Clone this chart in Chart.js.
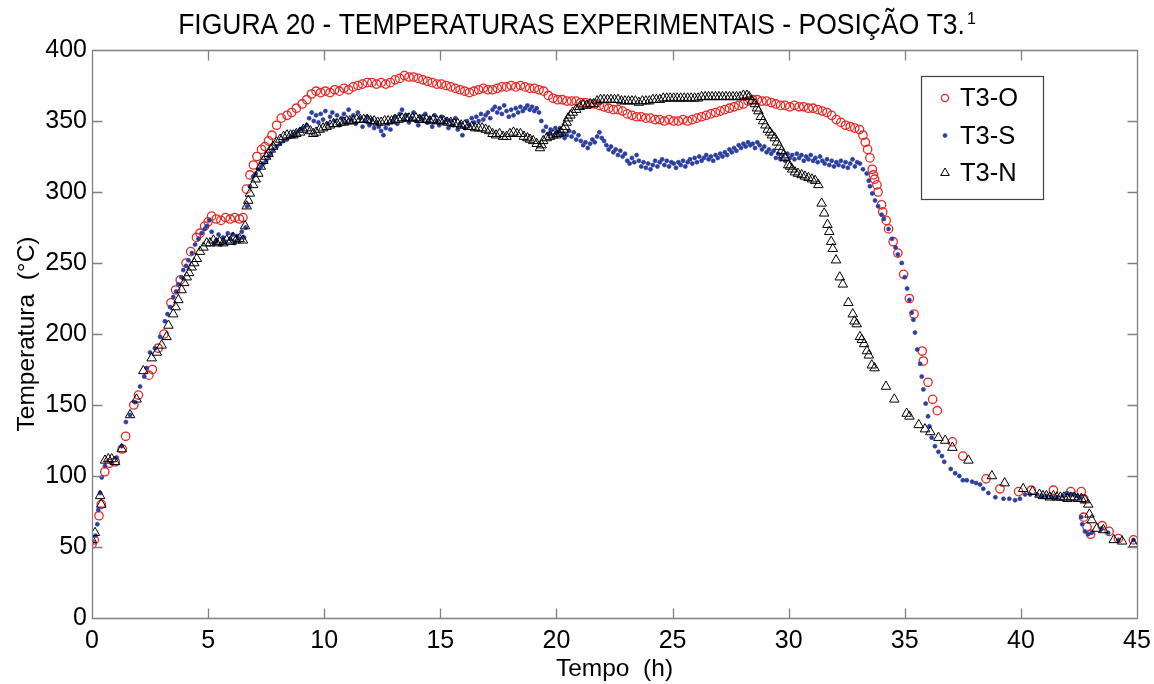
<!DOCTYPE html>
<html>
<head>
<meta charset="utf-8">
<script src="https://cdn.jsdelivr.net/npm/chart.js"></script>
<style>
  body { margin: 0; background: #fff; }
  canvas { display: block; }
</style>
</head>
<body>
<canvas id="myChart" width="1154" height="684"></canvas>
<script>
// T3-O
const timeO = [
  0.00, 0.10, 0.30, 0.40, 0.55, 0.75, 1.00, 1.30, 1.45, 1.80,
  2.00, 2.45, 2.60, 2.85, 3.10, 3.40, 3.60, 3.80, 4.05, 4.25,
  4.50, 4.65, 4.85, 5.00, 5.15, 5.35, 5.55, 5.75, 5.95, 6.15,
  6.35, 6.50, 6.65, 6.80, 6.95, 7.10, 7.30, 7.45, 7.60, 7.75,
  7.95, 8.15, 8.40, 8.60, 8.80, 9.05, 9.25, 9.45, 9.65, 9.85,
  10.05, 10.25, 10.45, 10.65, 10.85, 11.05, 11.25, 11.45, 11.65, 11.85,
  12.05, 12.25, 12.45, 12.65, 12.85, 13.05, 13.25, 13.45, 13.65, 13.85,
  14.05, 14.25, 14.45, 14.65, 14.85, 15.05, 15.25, 15.45, 15.65, 15.85,
  16.05, 16.25, 16.45, 16.65, 16.85, 17.05, 17.25, 17.45, 17.65, 17.85,
  18.05, 18.25, 18.45, 18.65, 18.85, 19.05, 19.25, 19.45, 19.65, 19.85,
  20.05, 20.25, 20.45, 20.65, 20.85, 21.05, 21.25, 21.45, 21.65, 21.85,
  22.05, 22.25, 22.45, 22.65, 22.85, 23.05, 23.25, 23.45, 23.65, 23.85,
  24.05, 24.25, 24.45, 24.65, 24.85, 25.05, 25.25, 25.45, 25.65, 25.85,
  26.05, 26.25, 26.45, 26.65, 26.85, 27.05, 27.25, 27.45, 27.65, 27.85,
  28.05, 28.25, 28.45, 28.65, 28.85, 29.05, 29.25, 29.45, 29.65, 29.85,
  30.05, 30.25, 30.45, 30.65, 30.85, 31.05, 31.25, 31.45, 31.65, 31.85,
  32.05, 32.25, 32.45, 32.65, 32.85, 33.05, 33.20, 33.30, 33.40, 33.50,
  33.60, 33.65, 33.70, 33.80, 33.85, 34.00, 34.05, 34.20, 34.30, 34.50,
  34.70, 34.95, 35.20, 35.40, 35.75, 35.80, 36.00, 36.20, 36.40, 37.05,
  37.50, 38.50, 39.10, 39.90, 40.45, 41.40, 42.15, 42.60, 42.70, 42.70,
  42.85, 43.00, 43.50, 43.80, 44.20, 44.85
];
const tempO = [
  52, 55, 72, 80, 103, 109, 110, 119, 128, 150,
  157, 171, 175, 190, 200, 222, 231, 238, 250, 258,
  268, 271, 276, 279, 283, 281, 280, 282, 281, 282,
  281, 282, 302, 312, 319, 325, 330, 332, 336, 340,
  347, 352, 354, 356, 359, 362, 365, 369, 371, 370,
  371, 370, 372, 371, 373, 372, 374, 375, 376, 377,
  377, 376, 377, 376, 377, 379, 380, 382, 381, 381,
  380, 379, 378, 377, 376, 376, 375, 374, 373, 372,
  371, 370, 371, 372, 373, 372, 372, 373, 374, 374,
  375, 374, 375, 374, 373, 373, 372, 371, 368, 366,
  365, 365, 364, 364, 364, 363, 363, 362, 362, 361,
  360, 359, 358, 358, 357, 355, 354, 353, 353, 352,
  352, 351, 351, 350, 351, 350, 350, 351, 350, 351,
  352, 353, 354, 355, 356, 357, 358, 359, 360, 361,
  362, 364, 365, 365, 364, 364, 363, 362, 361, 361,
  360, 361, 360, 360, 359, 359, 358, 357, 356, 354,
  351, 349, 347, 346, 345, 344, 340, 335, 330, 324,
  316, 312, 309, 305, 300, 291, 286, 280, 274, 265,
  257, 242, 225, 214, 188, 181, 166, 154, 146, 124,
  114, 98, 91, 89, 90, 90, 89, 89, 84, 71,
  64, 59, 65, 61, 56, 55
];

// T3-S
const timeS = [
  0.00, 0.15, 0.23, 0.27, 0.35, 0.42, 0.56, 0.85, 1.06, 1.28,
  1.46, 1.64, 1.85, 2.07, 2.25, 2.35, 2.50, 2.71, 2.93, 3.14,
  3.25, 3.36, 3.50, 3.62, 3.72, 3.85, 3.93, 4.05, 4.15, 4.30,
  4.44, 4.58, 4.72, 4.85, 4.94, 5.05, 5.15, 5.25, 5.35, 5.45,
  5.55, 5.65, 5.75, 5.85, 5.95, 6.05, 6.15, 6.25, 6.35, 6.45,
  6.55, 6.62, 6.68, 6.80, 6.94, 7.05, 7.17, 7.28, 7.38, 7.50,
  7.60, 7.70, 7.80, 7.95, 8.10, 8.25, 8.40, 8.55, 8.67, 8.80,
  8.96, 9.10, 9.25, 9.35, 9.46, 9.55, 9.65, 9.75, 9.85, 9.95,
  10.05, 10.15, 10.25, 10.35, 10.45, 10.55, 10.65, 10.75, 10.85, 10.95,
  11.05, 11.15, 11.25, 11.35, 11.45, 11.55, 11.65, 11.75, 11.85, 11.95,
  12.05, 12.15, 12.25, 12.35, 12.45, 12.55, 12.65, 12.75, 12.85, 12.95,
  13.05, 13.15, 13.25, 13.35, 13.45, 13.55, 13.65, 13.75, 13.85, 13.95,
  14.05, 14.15, 14.25, 14.35, 14.45, 14.55, 14.65, 14.75, 14.85, 14.95,
  15.05, 15.15, 15.25, 15.35, 15.45, 15.55, 15.65, 15.75, 15.85, 15.95,
  16.05, 16.15, 16.25, 16.35, 16.45, 16.55, 16.65, 16.75, 16.85, 16.95,
  17.05, 17.15, 17.25, 17.35, 17.45, 17.55, 17.65, 17.75, 17.85, 17.95,
  18.05, 18.15, 18.25, 18.35, 18.45, 18.55, 18.65, 18.75, 18.85, 18.95,
  19.05, 19.15, 19.25, 19.35, 19.43, 19.55, 19.65, 19.75, 19.85, 19.95,
  20.05, 20.15, 20.25, 20.35, 20.45, 20.55, 20.65, 20.75, 20.85, 20.95,
  21.05, 21.15, 21.25, 21.35, 21.45, 21.55, 21.65, 21.75, 21.85, 21.95,
  22.05, 22.15, 22.25, 22.35, 22.45, 22.55, 22.65, 22.75, 22.85, 22.95,
  23.05, 23.15, 23.25, 23.35, 23.45, 23.55, 23.65, 23.75, 23.85, 23.95,
  24.05, 24.15, 24.25, 24.35, 24.45, 24.55, 24.65, 24.75, 24.85, 24.95,
  25.05, 25.15, 25.25, 25.35, 25.45, 25.55, 25.65, 25.75, 25.85, 25.95,
  26.05, 26.15, 26.25, 26.35, 26.45, 26.55, 26.65, 26.75, 26.85, 26.95,
  27.05, 27.15, 27.25, 27.35, 27.45, 27.55, 27.65, 27.75, 27.85, 27.95,
  28.05, 28.15, 28.25, 28.35, 28.45, 28.55, 28.65, 28.75, 28.85, 28.95,
  29.05, 29.15, 29.25, 29.35, 29.45, 29.55, 29.65, 29.75, 29.85, 29.95,
  30.05, 30.15, 30.25, 30.35, 30.45, 30.55, 30.65, 30.75, 30.85, 30.95,
  31.05, 31.15, 31.25, 31.35, 31.45, 31.55, 31.65, 31.75, 31.85, 31.95,
  32.05, 32.15, 32.25, 32.35, 32.45, 32.55, 32.65, 32.75, 32.85, 32.95,
  33.07, 33.20, 33.36, 33.45, 33.50, 33.60, 33.72, 33.85, 34.00, 34.10,
  34.30, 34.45, 34.60, 34.70, 34.87, 35.00, 35.10, 35.20, 35.30, 35.37,
  35.44, 35.54, 35.66, 35.73, 35.80, 35.90, 36.00, 36.06, 36.16, 36.30,
  36.45, 36.60, 36.70, 36.98, 37.17, 37.35, 37.50, 37.67, 37.90, 38.07,
  38.24, 38.38, 38.60, 38.90, 39.25, 39.50, 39.75, 39.96, 40.18, 40.40,
  40.70, 40.90, 41.10, 41.35, 41.55, 41.80, 41.98, 42.10, 42.26, 42.40,
  42.55, 42.60, 42.64, 42.76, 42.90, 43.05, 43.48, 43.76, 44.20, 44.85
];
const tempS = [
  54, 58, 66, 76, 88, 99, 107, 109, 113, 121,
  138, 143, 152, 163, 170, 176, 187, 190, 198, 209,
  214, 219, 226, 230, 235, 240, 245, 248, 252, 257,
  263, 267, 271, 274, 276, 280, 272, 264, 266, 270,
  263, 268, 265, 271, 267, 270, 264, 269, 267, 272,
  268, 275, 290, 304, 311, 313, 316, 318, 320, 322,
  325, 327, 330, 332, 334, 336, 337, 339, 340, 342,
  344, 345, 347, 352, 356, 350, 354, 349, 355, 351,
  357, 348, 353, 356, 350, 354, 347, 352, 355, 349,
  358, 351, 354, 348, 356, 352, 346, 350, 353, 347,
  351, 345, 349, 346, 343, 340, 345, 348, 344, 350,
  353, 348, 355, 358, 351, 354, 349, 352, 356, 350,
  347, 353, 351, 355, 349, 352, 346, 354, 350, 347,
  353, 349, 351, 345, 350, 347, 352, 344, 348, 340,
  345, 350, 347, 352, 349, 353, 350, 355, 351, 354,
  356, 352, 358, 360, 356, 359, 355, 361, 357, 353,
  358, 354, 359, 356, 360, 357, 359, 361, 358, 360,
  357, 359, 356, 350, 343, 346, 341, 344, 340, 345,
  342, 345, 341, 338, 340, 343, 339, 342, 337, 340,
  336, 333, 335, 331, 334, 337, 335, 339, 342, 338,
  336, 333, 330, 332, 328, 330, 326, 329, 325, 327,
  322, 320, 324, 321, 326, 322, 318, 321, 317, 320,
  316, 319, 322, 318, 321, 323, 319, 322, 318, 321,
  320, 317, 321, 319, 322, 318, 321, 323, 320, 324,
  321, 325, 322, 324, 326, 323, 325, 322, 326, 324,
  327, 325, 328, 326, 330, 328, 331, 329, 333, 331,
  334, 332, 335, 333, 334, 331, 335, 333, 330, 332,
  328, 330, 327, 329, 324, 327, 323, 326, 322, 327,
  324, 326, 323, 327, 324, 326, 322, 325, 323, 326,
  322, 324, 321, 325, 322, 320, 323, 319, 322, 318,
  321, 319, 322, 318, 321, 317, 320, 323, 318, 321,
  320, 316, 313, 308, 304, 299, 294, 290, 284, 281,
  274, 267, 261, 256, 250, 240, 232, 224, 215, 210,
  201, 189, 179, 170, 161, 151, 142, 135, 127, 121,
  117, 114, 110, 105, 102, 100, 97, 97, 96, 95,
  94, 91, 88, 85, 84, 84, 83, 84, 87, 87,
  87, 86, 86, 85, 85, 86, 88, 87, 87, 86,
  85, 71, 66, 61, 59, 60, 63, 60, 55, 55
];

// T3-N
const timeN = [
  0.00, 0.13, 0.35, 0.40, 0.56, 0.70, 0.85, 0.99, 1.28, 1.64,
  1.92, 2.21, 2.57, 2.79, 3.00, 3.21, 3.29, 3.50, 3.60, 3.72,
  3.86, 3.97, 4.08, 4.18, 4.29, 4.40, 4.51, 4.65, 4.80, 4.94,
  5.08, 5.23, 5.37, 5.50, 5.65, 5.80, 5.95, 6.08, 6.20, 6.35,
  6.50, 6.59, 6.66, 6.73, 6.80, 6.94, 7.05, 7.16, 7.27, 7.38,
  7.50, 7.60, 7.70, 7.80, 7.95, 8.10, 8.25, 8.40, 8.55, 8.67,
  8.80, 8.96, 9.10, 9.25, 9.40, 9.53, 9.65, 9.80, 9.95, 10.10,
  10.25, 10.40, 10.55, 10.70, 10.85, 10.97, 11.10, 11.25, 11.40, 11.55,
  11.70, 11.85, 12.00, 12.15, 12.30, 12.45, 12.60, 12.75, 12.90, 13.05,
  13.20, 13.35, 13.50, 13.65, 13.80, 13.95, 14.10, 14.25, 14.40, 14.55,
  14.70, 14.85, 15.00, 15.15, 15.30, 15.45, 15.60, 15.75, 15.90, 16.05,
  16.20, 16.35, 16.50, 16.65, 16.80, 16.95, 17.10, 17.25, 17.40, 17.55,
  17.70, 17.85, 18.00, 18.15, 18.30, 18.45, 18.60, 18.75, 18.86, 19.00,
  19.15, 19.29, 19.36, 19.43, 19.58, 19.72, 19.86, 20.00, 20.10, 20.20,
  20.30, 20.37, 20.44, 20.50, 20.60, 20.70, 20.85, 21.00, 21.15, 21.30,
  21.45, 21.60, 21.75, 21.90, 22.05, 22.20, 22.35, 22.50, 22.65, 22.80,
  22.95, 23.10, 23.25, 23.40, 23.55, 23.70, 23.85, 24.00, 24.15, 24.30,
  24.45, 24.60, 24.75, 24.90, 25.05, 25.20, 25.35, 25.50, 25.65, 25.80,
  25.95, 26.10, 26.25, 26.40, 26.55, 26.70, 26.85, 27.00, 27.15, 27.30,
  27.45, 27.60, 27.75, 27.90, 28.05, 28.20, 28.30, 28.42, 28.55, 28.63,
  28.70, 28.80, 28.90, 29.00, 29.10, 29.20, 29.28, 29.40, 29.50, 29.60,
  29.70, 29.77, 29.85, 29.98, 30.06, 30.15, 30.27, 30.40, 30.56, 30.70,
  30.85, 31.00, 31.14, 31.28, 31.42, 31.53, 31.67, 31.75, 31.83, 31.90,
  32.04, 32.20, 32.33, 32.57, 32.76, 32.83, 32.93, 33.07, 33.15, 33.25,
  33.37, 33.45, 33.58, 33.70, 34.19, 34.55, 35.08, 35.20, 35.60, 35.87,
  36.10, 36.45, 36.74, 37.05, 37.74, 38.75, 39.30, 40.10, 40.50, 40.80,
  40.95, 41.10, 41.25, 41.40, 41.55, 41.70, 41.85, 42.00, 42.15, 42.30,
  42.45, 42.60, 42.75, 42.90, 42.95, 43.05, 43.27, 43.55, 44.00, 44.36,
  44.85
];
const tempN = [
  55, 60, 86, 80, 111, 112, 112, 110, 119, 143,
  154, 174, 183, 187, 192, 198, 206, 214, 219, 224,
  231, 236, 240, 243, 247, 250, 253, 258, 261, 264,
  264, 266, 264, 265, 264, 266, 265, 268, 266, 267,
  266, 276, 290, 294, 299, 305, 309, 313, 318, 322,
  325, 327, 330, 332, 335, 337, 339, 340, 340, 340,
  341, 342, 344, 345, 343, 341, 342, 344, 345, 346,
  347, 348, 348, 349, 349, 350, 350, 350, 351, 351,
  351, 351, 350, 350, 349, 349, 350, 350, 350, 351,
  351, 352, 352, 352, 352, 352, 351, 351, 351, 350,
  351, 350, 350, 350, 349, 349, 348, 348, 347, 347,
  346, 346, 345, 345, 345, 344, 343, 341, 340, 341,
  339, 339, 341, 342, 341, 341, 339, 338, 337, 336,
  334, 331, 333, 336, 338, 339, 340, 340, 341, 342,
  344, 346, 349, 352, 354, 356, 358, 360, 361, 361,
  362, 362, 364, 365, 365, 365, 365, 365, 365, 364,
  364, 364, 364, 364, 363, 364, 364, 364, 365, 365,
  365, 366, 366, 366, 366, 366, 366, 366, 366, 366,
  366, 366, 367, 367, 367, 367, 367, 367, 367, 367,
  367, 367, 367, 367, 368, 368, 367, 364, 362, 359,
  357, 353, 350, 347, 344, 342, 340, 338, 335, 332,
  329, 326, 324, 319, 318, 316, 314, 313, 312, 311,
  310, 309, 308, 305, 292, 285, 277, 272, 265, 260,
  252, 240, 235, 222, 214, 209, 207, 198, 196, 193,
  188, 185, 178, 176, 163, 154, 144, 142, 136, 133,
  131, 127, 125, 120, 111, 100, 95, 91, 89, 87,
  86, 86, 85, 86, 85, 85, 85, 84, 85, 85,
  84, 84, 83, 80, 73, 69, 63, 62, 55, 54,
  52
];

const xTicks = [0, 5, 10, 15, 20, 25, 30, 35, 40, 45];
const yTicks = [0, 50, 100, 150, 200, 250, 300, 350, 400];

const titleText = 'FIGURA 20 - TEMPERATURAS EXPERIMENTAIS - POSIÇÃO T3.';
const titleNote = '1';

const axisColor = '#808080';
const fontFamily = "'Liberation Sans', Arial, sans-serif";

Chart.defaults.font.family = fontFamily;
Chart.defaults.color = '#000';

function toPoints(times, temps) {
  return times.map((t, i) => ({ x: t, y: temps[i] }));
}

// heading with a raised note number, slightly tall letters
const figureTitle = {
  id: 'figureTitle',
  afterDraw(chart) {
    const c = chart.ctx;
    c.save();
    c.fillStyle = '#000';
    c.textBaseline = 'alphabetic';
    c.font = '26.5px ' + fontFamily;
    const w = c.measureText(titleText).width;
    c.font = '16px ' + fontFamily;
    const wn = c.measureText(titleNote).width;
    const x0 = chart.width / 2 - (w + wn + 2) / 2;
    c.save();
    c.scale(1, 1.12);
    c.font = '26.5px ' + fontFamily;
    c.fillText(titleText, x0, 34 / 1.12);
    c.restore();
    c.font = '16px ' + fontFamily;
    c.fillText(titleNote, x0 + w + 2, 24);
    c.restore();
  }
};

// box round the plot area, with tick marks pointing inwards on all four sides
const boxTicks = {
  id: 'boxTicks',
  afterDatasetsDraw(chart) {
    const c = chart.ctx;
    const a = chart.chartArea;
    const l = a.left + 0.5, r = a.right + 0.5, t = a.top + 0.5, b = a.bottom + 0.5;
    c.save();
    c.strokeStyle = axisColor;
    c.lineWidth = 1.3;
    c.beginPath();
    c.rect(l, t, r - l, b - t);
    for (const v of xTicks) {
      const px = Math.round(chart.scales.x.getPixelForValue(v)) + 0.5;
      c.moveTo(px, b); c.lineTo(px, b - 10);
      c.moveTo(px, t); c.lineTo(px, t + 10);
    }
    for (const v of yTicks) {
      const py = Math.round(chart.scales.y.getPixelForValue(v)) + 0.5;
      c.moveTo(l, py); c.lineTo(l + 10, py);
      c.moveTo(r, py); c.lineTo(r - 10, py);
    }
    c.stroke();
    c.restore();
  }
};

function drawMarker(c, ds, x, y, r) {
  c.save();
  c.lineWidth = ds.borderWidth;
  c.strokeStyle = ds.borderColor;
  c.fillStyle = ds.backgroundColor;
  c.beginPath();
  if (ds.pointStyle === 'triangle') {
    c.moveTo(x, y - r);
    c.lineTo(x + r * 0.866, y + r * 0.5);
    c.lineTo(x - r * 0.866, y + r * 0.5);
    c.closePath();
  } else {
    c.arc(x, y, r, 0, Math.PI * 2);
  }
  c.fill();
  c.stroke();
  c.restore();
}

// legend in a framed box at the upper right of the plot
const boxLegend = {
  id: 'boxLegend',
  afterDraw(chart) {
    const c = chart.ctx;
    const a = chart.chartArea;
    const left = a.right - 216, top = a.top + 26, w = 122, h = 123;
    c.save();
    c.fillStyle = '#fff';
    c.fillRect(left, top, w, h);
    c.strokeStyle = '#404040';
    c.lineWidth = 1.2;
    c.strokeRect(left + 0.5, top + 0.5, w, h);
    c.font = '25.5px ' + fontFamily;
    c.textBaseline = 'middle';
    chart.data.datasets.forEach((ds, i) => {
      const y = top + 22 + i * 37.5;
      const r = ds.pointStyle === 'triangle' ? 5 : (ds.pointRadius > 3 ? 3.6 : 2);
      drawMarker(c, ds, left + 24, y, r);
      c.fillStyle = '#000';
      c.fillText(ds.label, left + 39, y + 1);
    });
    c.restore();
  }
};

const ctx = document.getElementById('myChart').getContext('2d');

const myChart = new Chart(ctx, {
  type: 'scatter',
  data: {
    datasets: [{
      label: 'T3-O',
      data: toPoints(timeO, tempO),
      pointStyle: 'circle',
      pointRadius: 4.2,
      borderWidth: 1.3,
      borderColor: 'rgb(232,40,36)',
      backgroundColor: 'rgba(0,0,0,0)',
      order: 3
    }, {
      label: 'T3-S',
      data: toPoints(timeS, tempS),
      pointStyle: 'circle',
      pointRadius: 2,
      borderWidth: 0.7,
      borderColor: 'rgb(44,62,158)',
      backgroundColor: 'rgb(44,62,158)',
      order: 2
    }, {
      label: 'T3-N',
      data: toPoints(timeN, tempN),
      pointStyle: 'triangle',
      pointRadius: 5.5,
      borderWidth: 1,
      borderColor: '#000',
      backgroundColor: 'rgba(0,0,0,0)',
      order: 1
    }]
  },
  options: {
    responsive: false,
    animation: false,
    devicePixelRatio: 1,
    events: [],
    layout: {
      padding: { left: 0, right: 17, top: 50, bottom: 0 }
    },
    plugins: {
      legend: { display: false },
      tooltip: { enabled: false },
      title: { display: false }
    },
    scales: {
      x: {
        type: 'linear',
        min: 0,
        max: 45,
        afterFit: (scale) => {
          scale.height = 66;
          scale.paddingLeft = 0;
          scale.paddingRight = 0;
        },
        afterBuildTicks: (scale) => { scale.ticks = xTicks.map(v => ({ value: v })); },
        grid: { display: false, drawTicks: false },
        border: { display: false },
        ticks: {
          padding: 8,
          font: { size: 25 },
          color: '#000',
          maxRotation: 0
        },
        title: {
          display: true,
          text: 'Tempo  (h)',
          font: { size: 24.5 },
          color: '#000',
          padding: { top: 0, bottom: 0 }
        }
      },
      y: {
        type: 'linear',
        min: 0,
        max: 400,
        afterFit: (scale) => { scale.width = 92; },
        afterBuildTicks: (scale) => { scale.ticks = yTicks.map(v => ({ value: v })); },
        grid: { display: false, drawTicks: false },
        border: { display: false },
        ticks: {
          padding: 5,
          font: { size: 25 },
          color: '#000'
        },
        title: {
          display: true,
          text: 'Temperatura  (°C)',
          font: { size: 24.5 },
          color: '#000',
          padding: { top: 13, bottom: 0 }
        }
      }
    }
  },
  plugins: [boxTicks, boxLegend, figureTitle]
});
</script>
</body>
</html>
